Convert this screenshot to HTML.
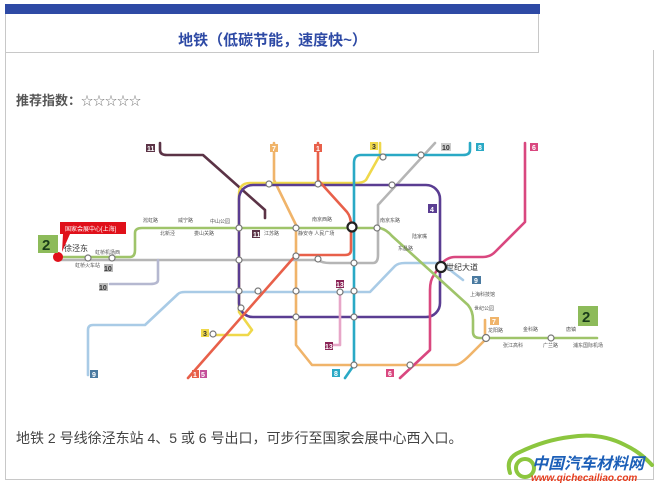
<!DOCTYPE html>
<html><head><meta charset="utf-8"><style>
html,body{margin:0;padding:0;background:#fff;width:658px;height:486px;overflow:hidden;font-family:"Liberation Sans","Noto Sans CJK SC",sans-serif;}
.bar{position:absolute;left:5px;top:4px;width:535px;height:10px;background:#2e4aa5;}
.tbox{position:absolute;left:5px;top:14px;width:534px;height:39px;border:1px solid #c8c8c8;border-top:none;box-sizing:border-box;}
.title{position:absolute;left:5px;top:29px;width:535px;text-align:center;color:#2e4aa5;font-size:15px;font-weight:bold;}
.cbox{position:absolute;left:5px;top:53px;width:649px;height:427px;border:1px solid #c8c8c8;border-top:none;box-sizing:border-box;}
.cbox:after{content:"";position:absolute;right:-1px;top:-3px;height:3px;border-right:1px solid #c8c8c8;}
.rec{position:absolute;left:16px;top:90px;font-size:13px;font-weight:bold;color:#555;}
.rec span{font-weight:normal;font-size:12px;color:#777;}
.desc{position:absolute;left:16px;top:428px;font-size:14px;color:#444;}
svg{position:absolute;left:0;top:0;}
</style></head><body>
<div class="bar"></div><div class="tbox"></div>
<div class="title">地铁（低碳节能，速度快~）</div>
<div class="cbox"></div>
<div class="rec">推荐指数：<span>☆☆☆☆☆</span></div>
<svg width="658" height="486" viewBox="0 0 658 486" fill="none" stroke-linecap="round" stroke-linejoin="round">
<g stroke-width="2.6">
<!-- 9 light blue -->
<path d="M88,375 V330 Q88,325 93,325 H145 L178,294 Q180,292 185,292 H370 L395,266 Q398,263 405,263 H441 L463,280" stroke="#a9cbe6"/>
<!-- 7 orange -->
<path d="M274,143 V180 L296,225 V345 L312,365 H455 Q460,365 470,355 L485,340 V320" stroke="#f0b46a"/>
<!-- 10 grey -->
<path d="M60,260 H318 Q322,263 330,263 H373 Q378,263 378,255 V205 L435,143" stroke="#b5b5b5"/>
<path d="M158,260 V280 Q158,284 150,284 H110" stroke="#b5b8d0"/>
<!-- 11 dark -->
<path d="M160,143 V150 Q160,155 167,155 H203 L265,210 V218" stroke="#5b3346"/>
<!-- 3 yellow -->
<path d="M380,143 V155 L366,180 Q363,183 355,183 H250 Q239,183 239,195 V312 L252,330 L248,335 H212" stroke="#efd84a"/>
<!-- 4 purple loop -->
<rect x="239" y="185" width="201" height="132" rx="14" stroke="#5a3d92"/>
<!-- 13 pink -->
<path d="M340,292 V345 H333" stroke="#e7a6c8"/>
<!-- 1 red -->
<path d="M318,143 V180 L347,212 Q351,217 351,225 V250 Q351,255 345,255 H296 L188,378" stroke="#e8604a"/>
<!-- 8 teal -->
<path d="M470,143 V150 Q470,155 463,155 H361 Q354,155 354,163 V365 L345,378" stroke="#2aa9c5"/>
<!-- 6 pink -->
<path d="M525,143 V222 L495,252 Q490,257 483,257 H455 Q447,257 440,265 L434,275 Q430,280 430,290 V350 L400,378" stroke="#d9477f"/>
<!-- 2 green -->
<path d="M58,257 H130 Q135,257 135,250 V233 Q135,228 142,228 H378 Q385,228 392,236 L468,305 Q473,311 473,320 V332 Q473,338 480,338 H597" stroke="#9fc46a"/>
</g>
<!-- stations -->
<g fill="#fff" stroke="#777" stroke-width="1.2">
<circle cx="88" cy="258" r="3"/><circle cx="112" cy="258" r="3"/>
<circle cx="239" cy="228" r="3"/><circle cx="296" cy="228" r="3"/><circle cx="377" cy="228" r="3"/>
<circle cx="239" cy="260" r="3"/><circle cx="296" cy="256" r="3"/><circle cx="318" cy="259" r="3"/>
<circle cx="354" cy="263" r="3"/><circle cx="239" cy="291" r="3"/><circle cx="258" cy="291" r="3"/>
<circle cx="296" cy="291" r="3"/><circle cx="340" cy="292" r="3"/><circle cx="354" cy="291" r="3"/>
<circle cx="296" cy="317" r="3"/><circle cx="354" cy="317" r="3"/><circle cx="269" cy="184" r="3"/>
<circle cx="318" cy="184" r="3"/><circle cx="392" cy="185" r="3"/><circle cx="421" cy="155" r="3"/>
<circle cx="383" cy="157" r="3"/><circle cx="213" cy="334" r="3"/><circle cx="241" cy="308" r="3"/>
<circle cx="354" cy="365" r="3"/><circle cx="410" cy="365" r="3"/><circle cx="551" cy="338" r="3"/>
<circle cx="486" cy="338" r="3.5"/>
</g>
<g fill="#fff" stroke="#222" stroke-width="2.2"><circle cx="352" cy="227" r="4.5"/><circle cx="441" cy="267" r="5"/></g>
<circle cx="58" cy="257" r="5" fill="#e0101a"/>
<!-- callout -->
<path d="M60,222 H126 V234 H70 L62,252 L63,234 H60 Z" fill="#e0101a"/>
<text x="65" y="231" font-size="6" fill="#fff">国家会展中心[上海]</text>
<rect x="38" y="235" width="20" height="18" fill="#8dbb5a"/><text x="42" y="250" font-size="15" font-weight="bold" fill="#1a3d1a">2</text>
<rect x="578" y="306" width="20" height="20" fill="#8dbb5a"/><text x="582" y="322" font-size="15" font-weight="bold" fill="#1a3d1a">2</text>
<g font-size="8" fill="#333"><text x="64" y="251">徐泾东</text><text x="446" y="270">世纪大道</text></g>
<g font-size="5" fill="#555">
<text x="95" y="254">虹桥机场西</text><text x="75" y="267">虹桥火车站</text>
<text x="143" y="222">淞虹路</text><text x="178" y="222">威宁路</text><text x="210" y="223">中山公园</text>
<text x="160" y="235">北新泾</text><text x="194" y="235">娄山关路</text><text x="264" y="235">江苏路</text>
<text x="298" y="235">静安寺 人民广场</text><text x="312" y="221">南京西路</text><text x="380" y="222">南京东路</text>
<text x="412" y="238">陆家嘴</text><text x="398" y="250">东昌路</text><text x="470" y="296">上海科技馆</text>
<text x="474" y="310">世纪公园</text><text x="488" y="332">龙阳路</text><text x="523" y="331">金科路</text><text x="566" y="331">唐镇</text>
<text x="503" y="347">张江高科</text><text x="543" y="347">广兰路</text><text x="573" y="347">浦东国际机场</text>
</g>
<g font-size="7" font-weight="bold" fill="#fff">
<rect x="146" y="144" width="9" height="8" fill="#5b3346"/><text x="147" y="151">11</text>
<rect x="252" y="230" width="8" height="8" fill="#5b3346"/><text x="253" y="237">11</text>
<rect x="270" y="144" width="8" height="8" fill="#f0b46a"/><text x="272" y="151">7</text>
<rect x="314" y="144" width="8" height="8" fill="#e8604a"/><text x="316" y="151">1</text>
<rect x="370" y="142" width="8" height="8" fill="#efd84a"/><text x="372" y="149" fill="#333">3</text>
<rect x="441" y="143" width="10" height="8" fill="#ccc"/><text x="442" y="150" fill="#333">10</text>
<rect x="476" y="143" width="8" height="8" fill="#2aa9c5"/><text x="478" y="150">8</text>
<rect x="530" y="143" width="8" height="8" fill="#d9477f"/><text x="532" y="150">6</text>
<rect x="428" y="204" width="9" height="9" fill="#5a3d92"/><text x="430" y="212">4</text>
<rect x="104" y="264" width="9" height="8" fill="#bbb"/><text x="104" y="271" fill="#333">10</text>
<rect x="99" y="283" width="9" height="8" fill="#bbb"/><text x="99" y="290" fill="#333">10</text>
<rect x="336" y="280" width="8" height="8" fill="#8a2456"/><text x="336" y="287">13</text>
<rect x="325" y="342" width="8" height="8" fill="#8a2456"/><text x="325" y="349">13</text>
<rect x="472" y="276" width="9" height="8" fill="#4a7aa0"/><text x="474" y="283">9</text>
<rect x="90" y="370" width="8" height="8" fill="#4a7aa0"/><text x="92" y="377">9</text>
<rect x="201" y="329" width="8" height="8" fill="#efd84a"/><text x="203" y="336" fill="#333">3</text>
<rect x="192" y="370" width="7" height="8" fill="#e8604a"/><text x="193" y="377">1</text>
<rect x="200" y="370" width="7" height="8" fill="#c4509a"/><text x="201" y="377">5</text>
<rect x="332" y="369" width="8" height="8" fill="#2aa9c5"/><text x="334" y="376">8</text>
<rect x="386" y="369" width="8" height="8" fill="#d9477f"/><text x="388" y="376">6</text>
<rect x="490" y="317" width="9" height="8" fill="#f0b46a"/><text x="492" y="324">7</text>
</g>
<!-- watermark -->
<path d="M510,473 Q505,458 520,452 Q545,440 570,437 Q600,432 625,445 Q640,452 652,465" stroke="#8cc63f" stroke-width="4"/>
<circle cx="525" cy="468" r="9" stroke="#8cc63f" stroke-width="4"/>
<text x="532" y="469" font-size="16" font-weight="bold" fill="#1c5fb8" font-style="italic">中国汽车材料网</text>
<text x="531" y="481" font-size="10" font-weight="bold" fill="#e53b1c" font-style="italic">www.qichecailiao.com</text>
</svg>
<div class="desc">地铁 2 号线徐泾东站 4、5 或 6 号出口，可步行至国家会展中心西入口。</div>
</body></html>
